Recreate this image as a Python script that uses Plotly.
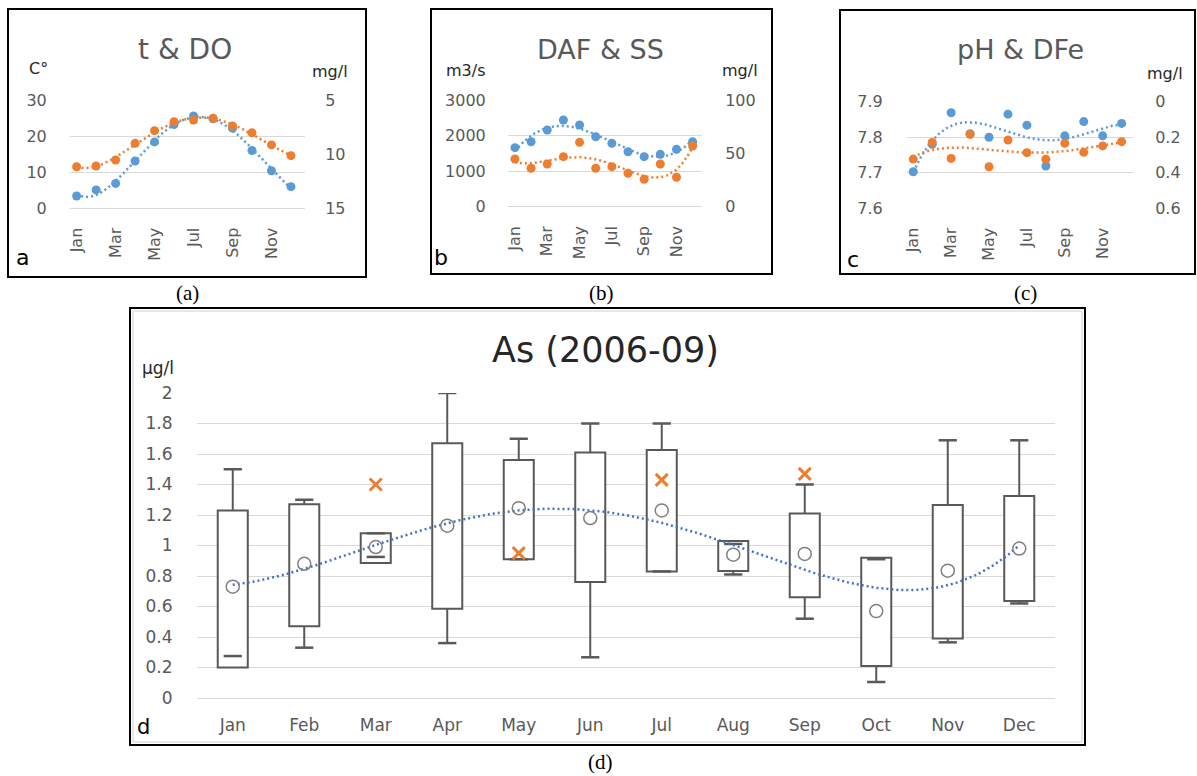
import numpy as np
import plotly.graph_objects as go

# ---------------- data ----------------
months = ["Jan", "Feb", "Mar", "Apr", "May", "Jun", "Jul", "Aug", "Sep", "Oct", "Nov", "Dec"]
month_num = list(range(1, 13))
odd_tick_vals = [1, 3, 5, 7, 9, 11]
odd_tick_text = ["Jan", "Mar", "May", "Jul", "Sep", "Nov"]

# panel a: temperature (C°, left) and dissolved oxygen (mg/l, right, reversed)
temp_c = [3.4, 5.1, 6.9, 13.1, 18.4, 23.2, 25.6, 24.8, 22.2, 16.0, 10.4, 6.0]
do_mgl = [11.16, 11.09, 10.54, 9.0, 7.83, 7.0, 6.85, 6.69, 7.40, 8.02, 9.15, 10.14]

# panel b: discharge (m3/s, left) and suspended solids (mg/l, right)
daf_m3s = [1659, 1827, 2156, 2437, 2297, 1968, 1781, 1546, 1406, 1472, 1612, 1827]
ss_mgl = [44.7, 36.0, 40.0, 46.9, 60.3, 36.0, 37.5, 31.3, 25.7, 40.0, 27.6, 56.9]

# panel c: pH (left) and dissolved Fe (mg/l, right, reversed)
ph_val = [7.703, 7.78, 7.869, 7.81, 7.80, 7.865, 7.834, 7.719, 7.804, 7.844, 7.804, 7.839]
dfe_mgl = [0.323, 0.229, 0.319, 0.184, 0.366, 0.216, 0.287, 0.324, 0.234, 0.285, 0.249, 0.225]

# panel d: As (2006-09) box statistics, µg/l
as_q1 = [0.20, 0.47, 0.885, 0.585, 0.91, 0.76, 0.83, 0.833, 0.66, 0.21, 0.39, 0.636]
as_q3 = [1.23, 1.27, 1.08, 1.67, 1.56, 1.61, 1.626, 1.03, 1.21, 0.92, 1.265, 1.325]
as_whisk_hi = [1.50, 1.30, 1.08, 2.00, 1.70, 1.80, 1.80, 1.01, 1.40, 0.91, 1.69, 1.69]
as_whisk_lo = [0.275, 0.33, 0.925, 0.36, 0.91, 0.267, 0.83, 0.81, 0.52, 0.105, 0.365, 0.62]
as_mean = [0.73, 0.88, 0.99, 1.13, 1.245, 1.18, 1.23, 0.94, 0.945, 0.57, 0.835, 0.98]
as_out_month = [3, 5, 7, 9]
as_out_val = [1.40, 0.95, 1.43, 1.47]

# ---------------- styling ----------------
W, H = 1197, 776
BLUE = "#5b9bd5"
ORANGE = "#ed7d31"
GRID = "#d9d9d9"
TICK = "#595959"
FONT = "DejaVu Sans"


def px(x):
    return x / W


def py(y):
    return 1 - y / H


xs = np.linspace(1, 12, 200)


def trend(vals, deg):
    c = np.polyfit(month_num, vals, deg)
    return np.polyval(c, xs)


fig = go.Figure()

# ---- panel a ----
fig.add_trace(go.Scatter(x=xs, y=trend(temp_c, 4), mode="lines", xaxis="x", yaxis="y",
                         line=dict(color=BLUE, width=2.5, dash="2px,3px"), hoverinfo="skip"))
fig.add_trace(go.Scatter(x=month_num, y=temp_c, mode="markers", xaxis="x", yaxis="y",
                         marker=dict(color=BLUE, size=9)))
fig.add_trace(go.Scatter(x=xs, y=trend(do_mgl, 4), mode="lines", xaxis="x", yaxis="y2",
                         line=dict(color=ORANGE, width=2.5, dash="2px,3px"), hoverinfo="skip"))
fig.add_trace(go.Scatter(x=month_num, y=do_mgl, mode="markers", xaxis="x", yaxis="y2",
                         marker=dict(color=ORANGE, size=9)))

# ---- panel b ----
fig.add_trace(go.Scatter(x=xs, y=trend(daf_m3s, 4), mode="lines", xaxis="x2", yaxis="y3",
                         line=dict(color=BLUE, width=2.5, dash="2px,3px"), hoverinfo="skip"))
fig.add_trace(go.Scatter(x=month_num, y=daf_m3s, mode="markers", xaxis="x2", yaxis="y3",
                         marker=dict(color=BLUE, size=9)))
fig.add_trace(go.Scatter(x=xs, y=trend(ss_mgl, 4), mode="lines", xaxis="x2", yaxis="y4",
                         line=dict(color=ORANGE, width=2.5, dash="2px,3px"), hoverinfo="skip"))
fig.add_trace(go.Scatter(x=month_num, y=ss_mgl, mode="markers", xaxis="x2", yaxis="y4",
                         marker=dict(color=ORANGE, size=9)))

# ---- panel c ----
fig.add_trace(go.Scatter(x=xs, y=trend(ph_val, 5), mode="lines", xaxis="x3", yaxis="y5",
                         line=dict(color=BLUE, width=2.5, dash="2px,3px"), hoverinfo="skip"))
fig.add_trace(go.Scatter(x=month_num, y=ph_val, mode="markers", xaxis="x3", yaxis="y5",
                         marker=dict(color=BLUE, size=9)))
fig.add_trace(go.Scatter(x=xs, y=trend(dfe_mgl, 4), mode="lines", xaxis="x3", yaxis="y6",
                         line=dict(color=ORANGE, width=2.5, dash="2px,3px"), hoverinfo="skip"))
fig.add_trace(go.Scatter(x=month_num, y=dfe_mgl, mode="markers", xaxis="x3", yaxis="y6",
                         marker=dict(color=ORANGE, size=9)))

# ---- panel d ----
q1 = np.array(as_q1)
q3 = np.array(as_q3)
stem_x, stem_y = [], []
for m, a, b, lo, hi in zip(month_num, as_q1, as_q3, as_whisk_lo, as_whisk_hi):
    if hi > b:
        stem_x += [m, m, None]
        stem_y += [b, hi, None]
    if lo < a:
        stem_x += [m, m, None]
        stem_y += [a, lo, None]
fig.add_trace(go.Scatter(x=stem_x, y=stem_y, mode="lines", xaxis="x4", yaxis="y7",
                         line=dict(color=TICK, width=2), hoverinfo="skip"))
fig.add_trace(go.Bar(x=month_num, y=q3 - q1, base=as_q1, width=0.42, xaxis="x4", yaxis="y7",
                     marker=dict(color="white", line=dict(color=TICK, width=2))))
fig.add_trace(go.Scatter(x=month_num + month_num, y=as_whisk_hi + as_whisk_lo, mode="markers",
                         xaxis="x4", yaxis="y7",
                         marker=dict(symbol="line-ew", size=13, line=dict(color=TICK, width=2.5))))
fig.add_trace(go.Scatter(x=xs, y=trend(as_mean, 4), mode="lines", xaxis="x4", yaxis="y7",
                         line=dict(color="#4472c4", width=2.5, dash="2px,3px"), hoverinfo="skip"))
fig.add_trace(go.Scatter(x=month_num, y=as_mean, mode="markers", xaxis="x4", yaxis="y7",
                         marker=dict(symbol="circle-open", size=13, color="#7f7f7f",
                                     line=dict(width=1.5, color="#7f7f7f"))))
fig.add_trace(go.Scatter(x=as_out_month, y=as_out_val, mode="markers", xaxis="x4", yaxis="y7",
                         marker=dict(symbol="x-thin", size=12, line=dict(color=ORANGE, width=3))))

hidden_tick = "rgba(0,0,0,0)"


def xax(dom, rng, tv, tt, angle, size=16):
    return dict(domain=[px(dom[0]), px(dom[1])], range=rng, tickvals=tv, ticktext=tt,
                tickangle=angle, showgrid=False, zeroline=False, showline=False,
                ticks="outside", ticklen=12, tickcolor=hidden_tick, automargin=False,
                tickfont=dict(family=FONT, size=size, color=TICK), fixedrange=True)


def yax(dom, rng, dtick, side="left", grid=True, ticklen=18, size=16, fmt=None):
    d = dict(domain=[py(dom[1]), py(dom[0])], range=rng, dtick=dtick, side=side,
             showgrid=grid, gridcolor=GRID, gridwidth=1, zeroline=grid, zerolinecolor=GRID,
             zerolinewidth=1, showline=False, ticks="outside", ticklen=ticklen,
             tickcolor=hidden_tick, tickfont=dict(family=FONT, size=size, color=TICK),
             automargin=False, fixedrange=True)
    if fmt:
        d["tickformat"] = fmt
    return d


fig.update_layout(
    width=W, height=H, margin=dict(l=0, r=0, t=0, b=0, pad=0, autoexpand=False),
    paper_bgcolor="white", plot_bgcolor="rgba(0,0,0,0)", showlegend=False,
    barmode="overlay",
    # panel a
    xaxis=xax((70, 305), [0.66, 12.72], odd_tick_vals, odd_tick_text, -90),
    yaxis=dict(yax((100, 208.3), [0, 30], 10, ticklen=19), anchor="x"),
    yaxis2=dict(yax((100, 208.3), [15, 5], 5, side="right", grid=False, ticklen=16),
                overlaying="y", anchor="x"),
    # panel b
    xaxis2=dict(xax((508, 702), [0.57, 12.58], odd_tick_vals, odd_tick_text, -90), anchor="y3"),
    yaxis3=dict(yax((100, 206.7), [0, 3000], 1000, ticklen=18), anchor="x2"),
    yaxis4=dict(yax((100, 206.7), [0, 100], 50, side="right", grid=False, ticklen=19),
                overlaying="y3", anchor="x2"),
    # panel c
    xaxis3=dict(xax((907, 1133), [0.67, 12.6], odd_tick_vals, odd_tick_text, -90), anchor="y5"),
    yaxis5=dict(yax((101.7, 208.3), [7.6, 7.9], 0.1, ticklen=20, fmt=".1f"), anchor="x3"),
    yaxis6=dict(yax((101.7, 208.3), [0.6, 0], 0.2, side="right", grid=False, ticklen=18),
                overlaying="y5", anchor="x3"),
    # panel d
    xaxis4=dict(xax((197, 1055), [0.5, 12.5], month_num, months, 0, size=17), anchor="y7"),
    yaxis7=dict(yax((393, 698), [0, 2], 0.2, ticklen=20, size=17), anchor="x4"),
)

# frames
frames = [(8, 366, 9, 277), (431, 772, 9, 274), (840, 1195, 10, 274), (130, 1085, 308, 745)]
for x0, x1, y0, y1 in frames:
    fig.add_shape(type="rect", xref="paper", yref="paper", x0=px(x0), x1=px(x1), y0=py(y1), y1=py(y0),
                  line=dict(color="black", width=2), layer="above")
fig.add_shape(type="rect", xref="paper", yref="paper", x0=px(133), x1=px(1082), y0=py(742), y1=py(311),
              line=dict(color="#d0d0d0", width=1), layer="below")


def ann(text, x, y, size, color="#262626", family=FONT):
    fig.add_annotation(text=text, x=px(x), y=py(y), xref="paper", yref="paper", showarrow=False,
                       xanchor="center", yanchor="middle", font=dict(family=family, size=size, color=color))


# titles
ann("t &amp; DO", 185, 50, 28, TICK)
ann("DAF &amp; SS", 600, 50, 27, TICK)
ann("pH &amp; DFe", 1020, 50, 27, TICK)
ann("As (2006-09)", 605, 350, 35, "#262626")
# units
ann("C°", 38, 68, 16)
ann("mg/l", 330, 71, 16)
ann("m3/s", 466, 70, 16)
ann("mg/l", 740, 70, 16)
ann("mg/l", 1165, 73, 16)
ann("µg/l", 158, 368, 17)
# panel letters
ann("a", 22, 258, 22, "black")
ann("b", 441, 258, 22, "black")
ann("c", 853, 260, 22, "black")
ann("d", 143, 727, 21, "black")
# captions
serif = "Liberation Serif"
ann("(a)", 187, 293, 21, "black", serif)
ann("(b)", 601, 293, 21, "black", serif)
ann("(c)", 1025, 293, 21, "black", serif)
ann("(d)", 600, 762, 21, "black", serif)

fig.write_html(
    "out.html",
    config={"displayModeBar": False},
    post_script="document.body.style.margin='0';document.body.style.overflow='hidden';",
)
